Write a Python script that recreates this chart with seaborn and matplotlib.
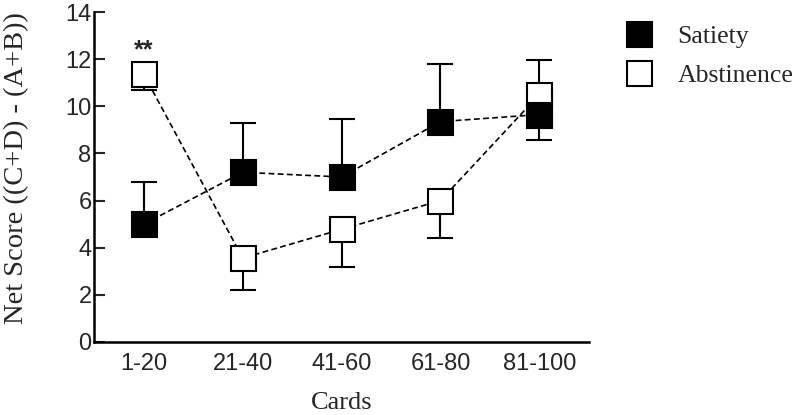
import numpy as np
import seaborn as sns
import matplotlib.pyplot as plt
import pandas as pd
from matplotlib.lines import Line2D

cards = ["1-20", "21-40", "41-60", "61-80", "81-100"]
satiety = [5.0, 7.2, 7.0, 9.35, 9.65]
satiety_err = [1.78, 2.08, 2.46, 2.45, 2.3]   # drawn upward
abstinence = [11.35, 3.56, 4.78, 6.0, 10.5]
abstinence_err = [0.65, 1.36, 1.6, 1.58, 1.93]  # drawn downward

sns.set_style("ticks")
plt.rcParams['font.family'] = ['Liberation Sans', 'DejaVu Sans']

fig = plt.figure(figsize=(8, 4.15), dpi=100)
ax = fig.add_axes([0.118, 0.176, 0.618, 0.795])

df = pd.DataFrame({"x": np.arange(len(cards)), "sat": satiety, "abs": abstinence})
dash = (0, (3.5, 2))

# error bars (one-sided)
ax.errorbar(df["x"], df["abs"], yerr=[abstinence_err, [0] * 5], fmt="none",
            ecolor="black", elinewidth=1.5, capsize=9.4, capthick=1.5, zorder=1)
ax.errorbar(df["x"], df["sat"], yerr=[[0] * 5, satiety_err], fmt="none",
            ecolor="black", elinewidth=1.5, capsize=9.4, capthick=1.5, zorder=1)

sns.lineplot(data=df, x="x", y="abs", ax=ax, color="black", linestyle=dash, lw=1.2,
             marker="s", markersize=18, markerfacecolor="white",
             markeredgecolor="black", markeredgewidth=1.5, zorder=3)
sns.lineplot(data=df, x="x", y="sat", ax=ax, color="black", linestyle=dash, lw=1.2,
             marker="s", markersize=18, markerfacecolor="black",
             markeredgecolor="black", markeredgewidth=1.5, zorder=4)

ax.text(0, 11.85, "**", ha="center", va="bottom", fontsize=18, fontweight="bold")

ax.set_xlim(-0.5, 4.5)
ax.set_ylim(0, 14)
ax.set_yticks(range(0, 15, 2))
ax.set_xticks(range(len(cards)))
ax.set_xticklabels(cards)
ax.tick_params(axis="y", direction="in", length=8, width=1.5, labelsize=17, pad=2)
ax.tick_params(axis="x", length=0, labelsize=17, pad=8)
sns.despine(ax=ax)
for s in ["left", "bottom"]:
    ax.spines[s].set_linewidth(1.8)
    ax.spines[s].set_color("black")

ax.set_xlabel("Cards", family="Liberation Serif", fontsize=19)
ax.xaxis.set_label_coords(0.5, -0.152)
ax.set_ylabel("Net Score ((C+D) - (A+B))", family="Liberation Serif", fontsize=20.5)
ax.yaxis.set_label_coords(-0.133, 0.527)

handles = [
    Line2D([], [], linestyle="none", marker="s", markersize=18, markerfacecolor="black",
           markeredgecolor="black", markeredgewidth=1.5),
    Line2D([], [], linestyle="none", marker="s", markersize=18, markerfacecolor="white",
           markeredgecolor="black", markeredgewidth=1.5),
]
fig.legend(handles, ["Satiety", "Abstinence"], loc="upper left",
           bbox_to_anchor=(0.76, 0.982), frameon=False, handlelength=1.0,
           handletextpad=1.0, labelspacing=0.62, borderpad=0.2,
           prop={"family": "Liberation Serif", "size": 18.5})

fig.savefig("out.png", dpi=100)
